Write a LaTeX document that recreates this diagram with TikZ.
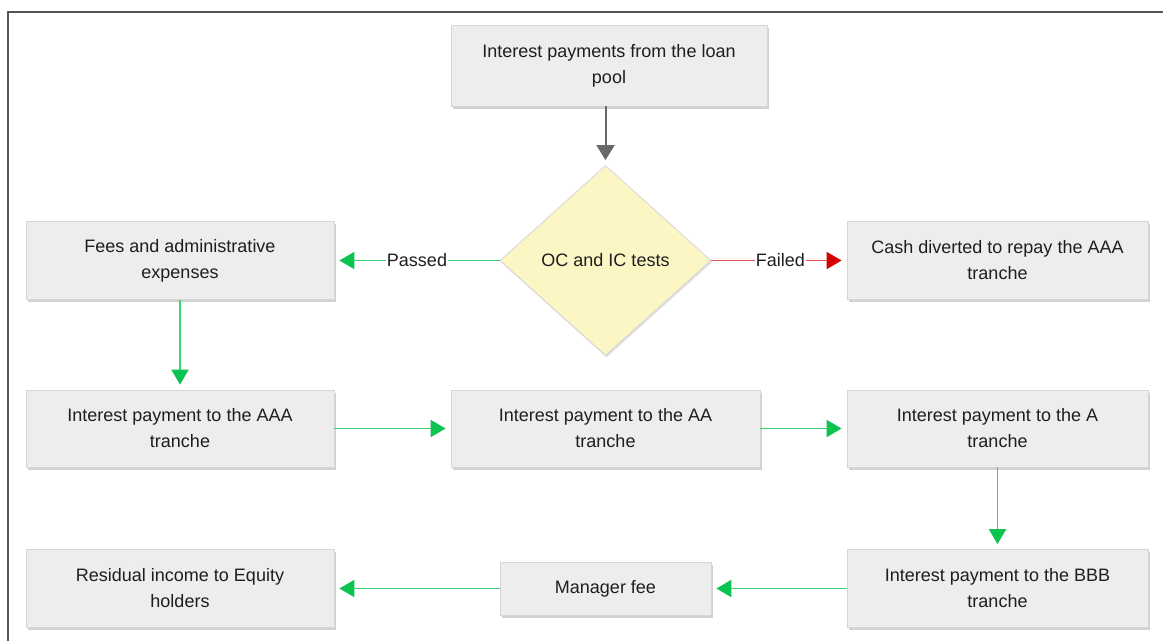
\documentclass[tikz,border=0pt]{standalone}
\usepackage{fontspec}
\setmainfont{Liberation Sans}
\usetikzlibrary{shapes.geometric,arrows.meta,shadows}

\definecolor{boxfill}{RGB}{237,237,237}
\definecolor{boxline}{RGB}{214,214,214}
\definecolor{testfill}{RGB}{252,246,196}
\definecolor{flowgreen}{RGB}{60,210,110}
\definecolor{tipgreen}{RGB}{10,195,80}
\definecolor{flowred}{RGB}{232,80,80}
\definecolor{tipred}{RGB}{215,0,0}
\definecolor{flowgray}{RGB}{105,105,105}
\definecolor{framegray}{RGB}{85,85,85}
\definecolor{inktext}{RGB}{30,30,30}

\tikzset{
  stagebox/.style={rectangle, draw=boxline, line width=0.8pt, fill=boxfill,
    align=center, inner sep=0pt, text=inktext, font=\fontsize{18}{26}\selectfont,
    drop shadow={shadow xshift=1.5pt, shadow yshift=-2.5pt, fill=black, opacity=0.18}},
  testbox/.style={diamond, draw=boxline, line width=0.8pt, fill=testfill,
    inner sep=0pt, minimum width=211pt, minimum height=190pt, text=inktext,
    font=\fontsize{18}{26}\selectfont,
    drop shadow={shadow xshift=1pt, shadow yshift=-2pt, fill=black, opacity=0.12}},
  okflow/.style={draw=flowgreen, line width=1.8pt,
    -{Triangle[length=15pt,width=17pt,color=tipgreen]}, shorten >=5pt},
  failflow/.style={draw=flowred, line width=1.8pt,
    -{Triangle[length=15pt,width=17pt,color=tipred]}, shorten >=5pt},
  startflow/.style={draw=flowgray, line width=2pt,
    -{Triangle[length=15pt,width=18pt]}, shorten >=5pt},
  flowlabel/.style={fill=white, inner sep=1pt, text=inktext,
    font=\fontsize{18}{22}\selectfont}
}

\begin{document}
\begin{tikzpicture}[x=1pt, y=-1pt]
  \useasboundingbox (0,0) rectangle (1163,641);
  \fill[white] (0,0) rectangle (1163,641);

  % outer frame (top and left edges)
  \draw[framegray, line width=1.5pt] (8,641) -- (8,12) -- (1163,12);

  % stages
  \node[stagebox, minimum width=316pt, minimum height=81pt] (pool) at (609,65.5)
    {Interest payments from the loan\\pool};
  \node[testbox] (test) at (605.5,260.5) {OC and IC tests};
  \node[stagebox, minimum width=308pt, minimum height=78pt] (fees) at (180,260.5)
    {Fees and administrative\\expenses};
  \node[stagebox, minimum width=301pt, minimum height=78pt] (cash) at (997.5,260.5)
    {Cash diverted to repay the AAA\\tranche};
  \node[stagebox, minimum width=308pt, minimum height=77pt] (aaa) at (180,428.5)
    {Interest payment to the AAA\\tranche};
  \node[stagebox, minimum width=309pt, minimum height=77pt] (aa) at (605.5,428.5)
    {Interest payment to the AA\\tranche};
  \node[stagebox, minimum width=301pt, minimum height=77pt] (a) at (997.5,428.5)
    {Interest payment to the A\\tranche};
  \node[stagebox, minimum width=301pt, minimum height=78pt] (bbb) at (997.5,588.5)
    {Interest payment to the BBB\\tranche};
  \node[stagebox, minimum width=211pt, minimum height=53pt] (mgr) at (605.5,588.5)
    {Manager fee};
  \node[stagebox, minimum width=308pt, minimum height=78pt] (equity) at (180,588.5)
    {Residual income to Equity\\holders};

  % connectors
  \draw[startflow] (pool.south -| test.north) -- (test.north);
  \draw[okflow] (test.west) -- node[flowlabel, pos=0.5] {Passed} (fees.east);
  \draw[failflow] (test.east) -- node[flowlabel, pos=0.51] {Failed} (cash.west);
  \draw[okflow] (fees.south) -- (aaa.north);
  \draw[okflow] (aaa.east) -- (aa.west);
  \draw[okflow] (aa.east) -- (a.west);
  \draw[okflow] (a.south) -- (bbb.north);
  \draw[okflow] (bbb.west) -- (mgr.east);
  \draw[okflow] (mgr.west) -- (equity.east);
\end{tikzpicture}
\end{document}
